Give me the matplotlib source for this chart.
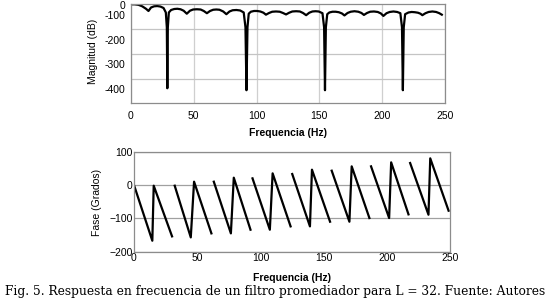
import numpy as np
import matplotlib.pyplot as plt

# magnitude response (Hz, dB)
mag_f = [0, 3, 6, 9, 12, 14,
         16, 18.5, 21, 23.5, 26, 27.8, 28.6, 29, 29.4, 30.2,
         32, 34.5, 37, 39.5, 42, 44.5,
         47, 49.5, 52.5, 55.5, 58, 60.5,
         63, 65.5, 68, 70.5, 73.5, 76,
         78.5, 81, 84, 87, 89.8, 91.2, 92, 92.8, 93.8,
         95.5, 98, 100.5, 103, 105.5, 107.5,
         110, 112.5, 115.5, 118.5, 121, 123.5,
         126, 128.5, 131.5, 134.5, 137, 139.5,
         142, 144.5, 147, 149.5, 152.5, 153.8, 154.5, 155.2, 156.3,
         158, 160.5, 163, 165.5, 168, 170,
         172.5, 175, 178, 181, 183.5, 185.5,
         188, 190.5, 193.5, 196.5, 199, 201,
         203.5, 206, 209, 212, 214.5, 215.8, 216.5, 217.2, 218.3,
         221, 223.5, 226, 228.5, 230.5, 232,
         234.5, 237, 240, 243, 245.5, 247.5]
mag_db = [-57, -57, -59, -65, -75, -84,
          -70, -65, -64, -66, -72, -90, -150, -397, -150, -90,
          -80, -76, -75, -77, -83, -95,
          -83, -78, -77, -78, -84, -93,
          -84, -79, -78, -79, -86, -97,
          -86, -81, -80, -82, -90, -150, -405, -150, -95,
          -87, -84, -84, -86, -91, -99,
          -92, -87, -86, -87, -92, -98,
          -91, -86, -85, -86, -92, -101,
          -91, -86, -85, -86, -93, -150, -405, -150, -97,
          -90, -87, -87, -89, -94, -102,
          -92, -87, -85, -87, -92, -100,
          -92, -87, -86, -88, -94, -104,
          -93, -88, -86, -88, -93, -150, -405, -150, -97,
          -90, -88, -89, -91, -95, -101,
          -93, -88, -86, -88, -93, -99]

# phase response, one list per unbroken stroke (Hz, degrees)
fase_f = [[0, 14.5, 15.6, 30.1],
          [32.2, 44.9, 47.5, 61.2],
          [63.1, 76.6, 78.9, 92.1],
          [93.7, 107.4, 109.6, 123.8],
          [125.1, 139.1, 140.7, 155.0],
          [156.3, 170.3, 172.1, 186.1],
          [187.4, 201.7, 203.3, 217.0],
          [218.3, 232.8, 234.2, 248.7]]
fase_deg = [[0, -167, -2, -154],
            [-2, -157, 10, -145],
            [10, -145, 22, -134],
            [20, -134, 35, -124],
            [33, -124, 46, -110],
            [43, -110, 56, -99],
            [56, -99, 68, -88],
            [66, -89, 80, -77]]

x_ticks = [0, 50, 100, 150, 200, 250]
mag_labels = ['0', '-100', '-200', '-300', '-400']
fase_ticks = [-200, -100, 0, 100]

plt.rcParams['font.family'] = ['Liberation Sans', 'DejaVu Sans']
fig = plt.figure(figsize=(5.5, 3.04), dpi=100)

# --- magnitude ---
ax1 = fig.add_axes([0.238, 0.661, 0.571, 0.326])
ax1.plot(mag_f, mag_db, color='black', lw=1.6)
ax1.set_xlim(0, 250)
ax1.set_ylim(-457, -55.5)
ax1.set_xticks(x_ticks)
ax1.set_yticks([-59.5, -100, -200, -300, -400])
ax1.set_yticklabels(mag_labels)
ax1.set_yticks([-158, -259, -359], minor=True)
ax1.tick_params(axis='both', which='both', length=0, labelsize=7.5)
ax1.tick_params(axis='x', pad=6)
ax1.tick_params(axis='y', pad=4)
ax1.grid(False)
ax1.grid(True, axis='x', which='major', color='#cfcfcf', lw=0.9)
ax1.grid(True, axis='y', which='minor', color='#c4c4c4', lw=0.9)
ax1.set_xlabel('Frequencia (Hz)', fontsize=7.5, fontweight='bold')
ax1.xaxis.set_label_coords(0.5, -0.30)
ax1.xaxis.label.set_va('center')
ax1.set_ylabel('Magnitud (dB)', fontsize=7.5)
ax1.yaxis.set_label_coords(-0.122, 0.52)
ax1.yaxis.label.set_va('center')

# --- phase ---
ax2 = fig.add_axes([0.2436, 0.172, 0.575, 0.329])
for xs, ys in zip(fase_f, fase_deg):
    ax2.plot(xs, ys, color='black', lw=1.6)
ax2.set_xlim(0, 250)
ax2.set_ylim(-200, 100)
ax2.set_xticks(x_ticks)
ax2.set_yticks(fase_ticks)
ax2.tick_params(axis='both', length=0, labelsize=7.5, pad=1)
ax2.set_xticks([50, 100, 150, 200], minor=True)
ax2.grid(True, axis='x', which='minor', color='#dedede', lw=0.9)
ax2.grid(True, axis='y', which='major', color='#a0a0a0', lw=0.9)
ax2.set_xlabel('Frequencia (Hz)', fontsize=7.5, fontweight='bold')
ax2.xaxis.set_label_coords(0.5, -0.263)
ax2.xaxis.label.set_va('center')
ax2.set_ylabel('Fase (Grados)', fontsize=7.5)
ax2.yaxis.set_label_coords(-0.117, 0.49)
ax2.yaxis.label.set_va('center')

for ax in (ax1, ax2):
    ax.set_axisbelow(True)
    for s in ax.spines.values():
        s.set_color('#8c8c8c')
        s.set_linewidth(0.9)

fig.text(0.5, 1 - 291.7 / 304, 'Fig. 5. Respuesta en frecuencia de un filtro promediador para L = 32. Fuente: Autores',
         ha='center', va='center', fontsize=8.85, family='DejaVu Serif')

fig.savefig('out.png', dpi=100)
